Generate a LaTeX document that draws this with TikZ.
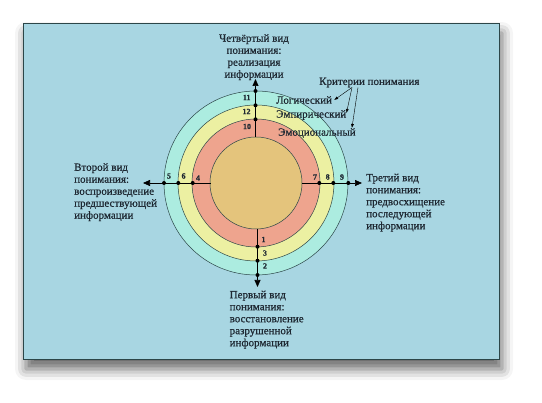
\documentclass[tikz,border=0pt]{standalone}
\usepackage{fontspec}
\setmainfont{Liberation Serif}[FakeBold=0.6]
\usetikzlibrary{positioning, arrows.meta, shadows.blur}

\definecolor{panelblue}{RGB}{168,214,226}
\definecolor{ringcyan}{RGB}{172,236,224}
\definecolor{ringyellow}{RGB}{236,240,162}
\definecolor{ringred}{RGB}{238,164,142}
\definecolor{coretan}{RGB}{228,196,124}
\definecolor{rimline}{RGB}{44,70,72}
\definecolor{inktext}{RGB}{30,40,50}

\begin{document}
\begin{tikzpicture}[
  x=1pt, y=-1pt,
  font=\fontsize{11}{12}\selectfont, text=inktext,
  panel/.style={
    fill=panelblue, draw=rimline, line width=0.7pt,
    minimum width=476pt, minimum height=336pt,
    blur shadow={shadow xshift=3pt, shadow yshift=-10pt,
      shadow blur radius=11pt, shadow opacity=60}
  },
  ring/.style={draw=rimline, line width=0.5pt},
  axis/.style={line width=0.7pt, -{Triangle[length=7pt, width=6pt]}},
  dot/.style={circle, fill=black, inner sep=0pt, minimum size=4pt},
  num/.style={font=\fontsize{8}{8}\selectfont\bfseries, inner sep=0pt},
  kind/.style={inner sep=0pt},
  crit/.style={inner sep=0pt, anchor=west},
  pointer/.style={line width=0.4pt, -{Latex[length=4pt, width=3pt]}},
]
  \useasboundingbox (0,0) rectangle (542,403);

  % --- Panel ---
  \node[panel] (frame) at (261,191) {};

  % --- Rings ---
  \coordinate (ctr) at (256,183);
  \foreach \r/\c in {92/ringcyan, 78/ringyellow, 64/ringred, 46/coretan}
    \draw[ring, fill=\c] (ctr) circle (\r);

  % --- Top axis (fourth kind) ---
  \coordinate (inN) at (255.5,137);
  \coordinate (tipN) at (255.5,79);
  \draw[axis] (inN) -- (tipN);
  \node[dot] (d10) at (255.5,119.3) {};
  \node[dot] (d12) at (255.5,105.3) {};
  \node[dot] (d11) at (255.5,91) {};
  \node[num] at (246.7,97.5) {11};
  \node[num] at (246.5,111.5) {12};
  \node[num] at (247,126.5) {10};

  % --- Left axis (second kind) ---
  \coordinate (inW) at (210.5,183);
  \coordinate (tipW) at (143,183);
  \draw[axis] (inW) -- (tipW);
  \node[dot] (d4) at (192.7,183) {};
  \node[dot] (d6) at (178.3,183) {};
  \node[dot] (d5) at (164,183) {};
  \node[num] at (169,176) {5};
  \node[num] at (183.6,176) {6};
  \node[num] at (198,178) {4};

  % --- Right axis (third kind) ---
  \coordinate (inE) at (302,183);
  \coordinate (tipE) at (362,183);
  \draw[axis] (inE) -- (tipE);
  \node[dot] (d7) at (319.3,183) {};
  \node[dot] (d8) at (333.3,183) {};
  \node[dot] (d9) at (348.3,183) {};
  \node[num] at (315,177) {7};
  \node[num] at (327.7,177) {8};
  \node[num] at (342,177) {9};

  % --- Bottom axis (first kind) ---
  \coordinate (inS) at (257.5,229);
  \coordinate (tipS) at (257.5,287);
  \draw[axis] (inS) -- (tipS);
  \node[dot] (d1) at (257.5,246.7) {};
  \node[dot] (d3) at (257.5,260.7) {};
  \node[dot] (d2) at (257.5,275) {};
  \node[num] at (263.5,239.5) {1};
  \node[num] at (265,253) {3};
  \node[num] at (265,266) {2};

  % --- Kinds of understanding ---
  \node[kind, align=center, anchor=north] (fourth) at (254,34) {Четвёртый вид\\понимания:\\реализация\\информации};
  \node[kind, align=left, anchor=north west] (second) at (74,163) {Второй вид\\понимания:\\воспроизведение\\предшествующей\\информации};
  \node[kind, align=left, anchor=north west] (third) at (366,173.5) {Третий вид\\понимания:\\предвосхищение\\последующей\\информации};
  \node[kind, align=left, anchor=north west] (first) at (229.5,290.5) {Первый вид\\понимания:\\восстановление\\разрушенной\\информации};

  % --- Criteria ---
  \node[crit] (criteria) at (319,82.5) {Критерии понимания};
  \node[crit] (logic) at (276,100) {Логический};
  \node[crit] (empiric) at (276,115) {Эмпирический};
  \node[crit] (emotion) at (278,133) {Эмоциональный};
  \draw[pointer] ([xshift=33pt]criteria.south west) -- ([xshift=2pt]logic.east);
  \draw[pointer] ([xshift=33pt]criteria.south west) -- ([yshift=2pt]empiric.east);
  \draw[pointer] ([xshift=39pt]criteria.south west) -- ([xshift=-4pt]emotion.north east);

\end{tikzpicture}
\end{document}
